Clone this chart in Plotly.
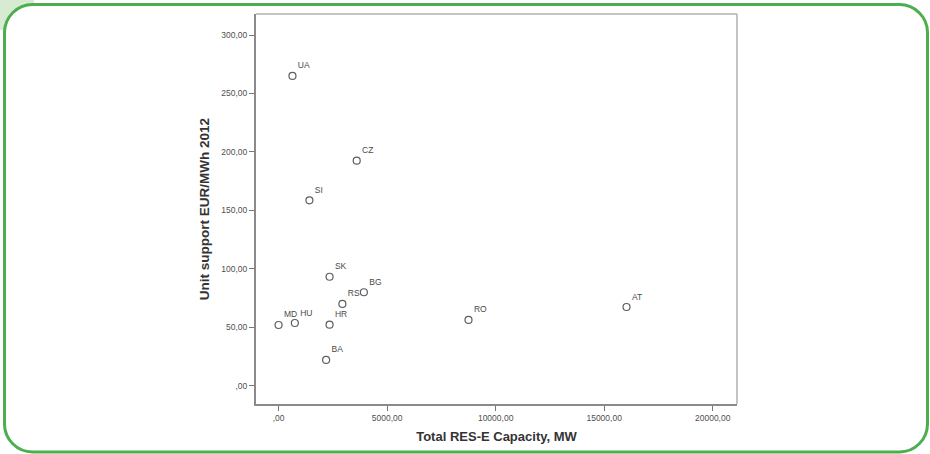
import plotly.graph_objects as go

countries = ["UA", "CZ", "SI", "SK", "BG", "RS", "HR", "MD", "HU", "BA", "RO", "AT"]
capacity_mw = [640, 3600, 1420, 2350, 3930, 2940, 2350, 0, 750, 2190, 8750, 16030]
support_eur = [265.0, 192.5, 158.6, 93.2, 79.9, 69.9, 52.2, 51.9, 53.6, 22.0, 56.2, 67.3]

x_ticks = [0, 5000, 10000, 15000, 20000]
x_tick_labels = [",00", "5000,00", "10000,00", "15000,00", "20000,00"]
y_ticks = [0, 50, 100, 150, 200, 250, 300]
y_tick_labels = [",00", "50,00", "100,00", "150,00", "200,00", "250,00", "300,00"]

W, H = 930, 454
L, R, T, B = 256, 193, 14, 50
pw, ph = W - L - R, H - T - B


def px(xp):
    return (xp - L) / pw


def py(yp):
    return 1 - (yp - T) / ph


fig = go.Figure()
fig.add_trace(go.Scatter(
    x=capacity_mw, y=support_eur, text=countries,
    mode="markers+text", textposition="top right",
    marker=dict(symbol="circle-open", size=7, color="#5e5e5e", line=dict(width=1.2)),
    textfont=dict(size=8.5, color="#4a4a4a", family="Liberation Sans"),
    hoverinfo="skip", cliponaxis=False,
))

# rounded green frame
x0, x1, y0, y1, rr = 4.5, 927.5, 4.5, 452.0, 28
k = 0.55 * rr
pts = [
    ("M", [(x0 + rr, y0)]),
    ("L", [(x1 - rr, y0)]),
    ("C", [(x1 - rr + k, y0), (x1, y0 + rr - k), (x1, y0 + rr)]),
    ("L", [(x1, y1 - rr)]),
    ("C", [(x1, y1 - rr + k), (x1 - rr + k, y1), (x1 - rr, y1)]),
    ("L", [(x0 + rr, y1)]),
    ("C", [(x0 + rr - k, y1), (x0, y1 - rr + k), (x0, y1 - rr)]),
    ("L", [(x0, y0 + rr)]),
    ("C", [(x0, y0 + rr - k), (x0 + rr - k, y0), (x0 + rr, y0)]),
]
path = ""
for cmd, ps in pts:
    path += cmd + " " + " ".join(f"{px(a):.5f},{py(b):.5f}" for a, b in ps) + " "
path += "Z"

shapes = [
    dict(type="rect", xref="paper", yref="paper", x0=px(0), x1=px(34), y0=py(0), y1=py(30),
         fillcolor="#d6ebd2", line=dict(width=0), layer="below"),
    dict(type="path", xref="paper", yref="paper", path=path, fillcolor="white",
         line=dict(color="#4cae4f", width=3), layer="below"),
    # top / right light border of plot area
    dict(type="line", xref="paper", yref="paper", x0=0, x1=1, y0=1, y1=1,
         line=dict(color="#b0b0b0", width=1.5)),
    dict(type="line", xref="paper", yref="paper", x0=1, x1=1, y0=0, y1=1,
         line=dict(color="#b0b0b0", width=1.5)),
]

fig.update_layout(
    width=W, height=H,
    margin=dict(l=L, r=R, t=T, b=B),
    paper_bgcolor="white", plot_bgcolor="#f0f0f0",
    showlegend=False,
    shapes=shapes,
    font=dict(family="Liberation Sans", color="#555555", size=8),
    xaxis=dict(
        range=[-1040, 21120], tickvals=x_ticks, ticktext=x_tick_labels,
        showgrid=False, zeroline=False, showline=True, linecolor="#8a8a8a", linewidth=2,
        ticks="outside", ticklen=5, tickcolor="#777777", tickwidth=1,
        tickfont=dict(size=8.5, color="#4f4f4f"),
        title=dict(text="<b>Total RES-E Capacity, MW</b>", font=dict(size=13, color="#333333"), standoff=10),
    ),
    yaxis=dict(
        range=[-15.7, 318], tickvals=y_ticks, ticktext=y_tick_labels,
        showgrid=False, zeroline=False, showline=True, linecolor="#8a8a8a", linewidth=2,
        ticks="outside", ticklen=5, tickcolor="#777777", tickwidth=1,
        tickfont=dict(size=8.5, color="#4f4f4f"),
        title=dict(text="<b>Unit support EUR/MWh 2012</b>", font=dict(size=13.5, color="#333333"), standoff=9),
    ),
)

fig.write_html("out.html", config={"displayModeBar": False},
               post_script="document.body.style.margin='0';document.body.style.overflow='hidden';")
